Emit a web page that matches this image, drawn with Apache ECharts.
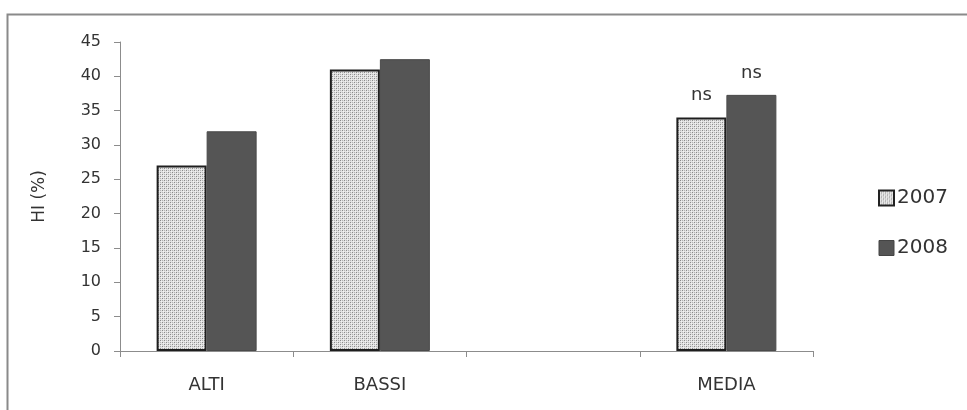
<!DOCTYPE html>
<html>
<head>
<meta charset="utf-8">
<script src="https://cdn.jsdelivr.net/npm/echarts@6/dist/echarts.min.js"></script>
<style>html,body{margin:0;padding:0;background:#fff}#c{width:967px;height:410px}</style>
</head>
<body>
<div id="c"></div>
<script>
var categories = ['ALTI', 'BASSI', '', 'MEDIA'];
var values2007 = [27, 41, null, 34];
var values2008 = [32, 42.5, null, 37.3];
var sigLabels2007 = ['', '', '', 'ns'];
var sigLabels2008 = ['', '', '', 'ns'];
var yTicks = [0, 5, 10, 15, 20, 25, 30, 35, 40, 45];

function makePattern() {
  var c = document.createElement('canvas');
  c.width = 4; c.height = 4;
  var g = c.getContext('2d');
  g.fillStyle = '#e2e2e2';
  g.fillRect(0, 0, 4, 4);
  g.fillStyle = '#8a8a8a';
  g.fillRect(0, 0, 1, 1);
  g.fillRect(2, 2, 1, 1);
  g.fillStyle = '#b4b4b4';
  g.fillRect(2, 0, 1, 1);
  g.fillRect(0, 2, 1, 1);
  g.fillStyle = '#f2f2f2';
  g.fillRect(1, 1, 1, 1);
  g.fillRect(3, 3, 1, 1);
  return c;
}
var pattern = { image: makePattern(), repeat: 'repeat' };
var font = 'DejaVu Sans';
var textColor = '#333333';

function buildData(vals, labels) {
  return vals.map(function (v, i) {
    var item = { value: v };
    if (labels[i]) {
      item.label = { show: true, position: 'top', distance: 13, formatter: labels[i],
        fontFamily: font, fontSize: 18, color: textColor };
    }
    return item;
  });
}

var chart = echarts.init(document.getElementById('c'), null, { renderer: 'canvas' });
chart.setOption({
  animation: false,
  backgroundColor: '#fff',
  graphic: [{
    type: 'rect', left: 5, top: 12, z: -1,
    shape: { width: 1000, height: 500 },
    style: { fill: 'none', stroke: '#8a8a8a', lineWidth: 2 }
  }],
  grid: { left: 120, right: 154, top: 42, bottom: 59, containLabel: false },
  legend: {
    orient: 'vertical', left: 873, top: 183, itemGap: 30,
    itemWidth: 15, itemHeight: 15,
    textStyle: { fontFamily: font, fontSize: 20, color: textColor, padding: [0, 0, 0, -2] },
    data: [
      { name: '2007', icon: 'rect', itemStyle: { color: pattern, borderColor: '#222', borderWidth: 2 } },
      { name: '2008', icon: 'rect', itemStyle: { color: '#555555', borderColor: '#444', borderWidth: 1 } }
    ]
  },
  xAxis: {
    type: 'category',
    data: categories,
    axisLine: { lineStyle: { color: '#8c8c8c', width: 1 } },
    axisTick: { show: true, interval: 0, length: 6, lineStyle: { color: '#8c8c8c' } },
    axisLabel: { interval: 0, margin: 25, fontFamily: font, fontSize: 18, color: textColor }
  },
  yAxis: {
    type: 'value', min: 0, max: 45, interval: 5,
    name: 'HI (%)', nameLocation: 'middle', nameGap: 72, nameRotate: 90,
    nameTextStyle: { fontFamily: font, fontSize: 17, color: textColor },
    splitLine: { show: false },
    axisLine: { show: true, lineStyle: { color: '#8c8c8c', width: 1 } },
    axisTick: { show: true, length: 6, lineStyle: { color: '#8c8c8c' } },
    axisLabel: { margin: 19, fontFamily: font, fontSize: 16, color: textColor,
      formatter: function (v) { return yTicks.indexOf(v) >= 0 ? String(v) : ''; } }
  },
  series: [
    { name: '2007', type: 'bar', barWidth: 50, barGap: '0%',
      data: buildData(values2007, sigLabels2007),
      itemStyle: { color: pattern, borderColor: '#1e1e1e', borderWidth: 2 } },
    { name: '2008', type: 'bar', barWidth: 50, barGap: '0%',
      data: buildData(values2008, sigLabels2008),
      itemStyle: { color: '#555555', borderColor: '#4a4a4a', borderWidth: 1 } }
  ]
});
</script>
</body>
</html>
